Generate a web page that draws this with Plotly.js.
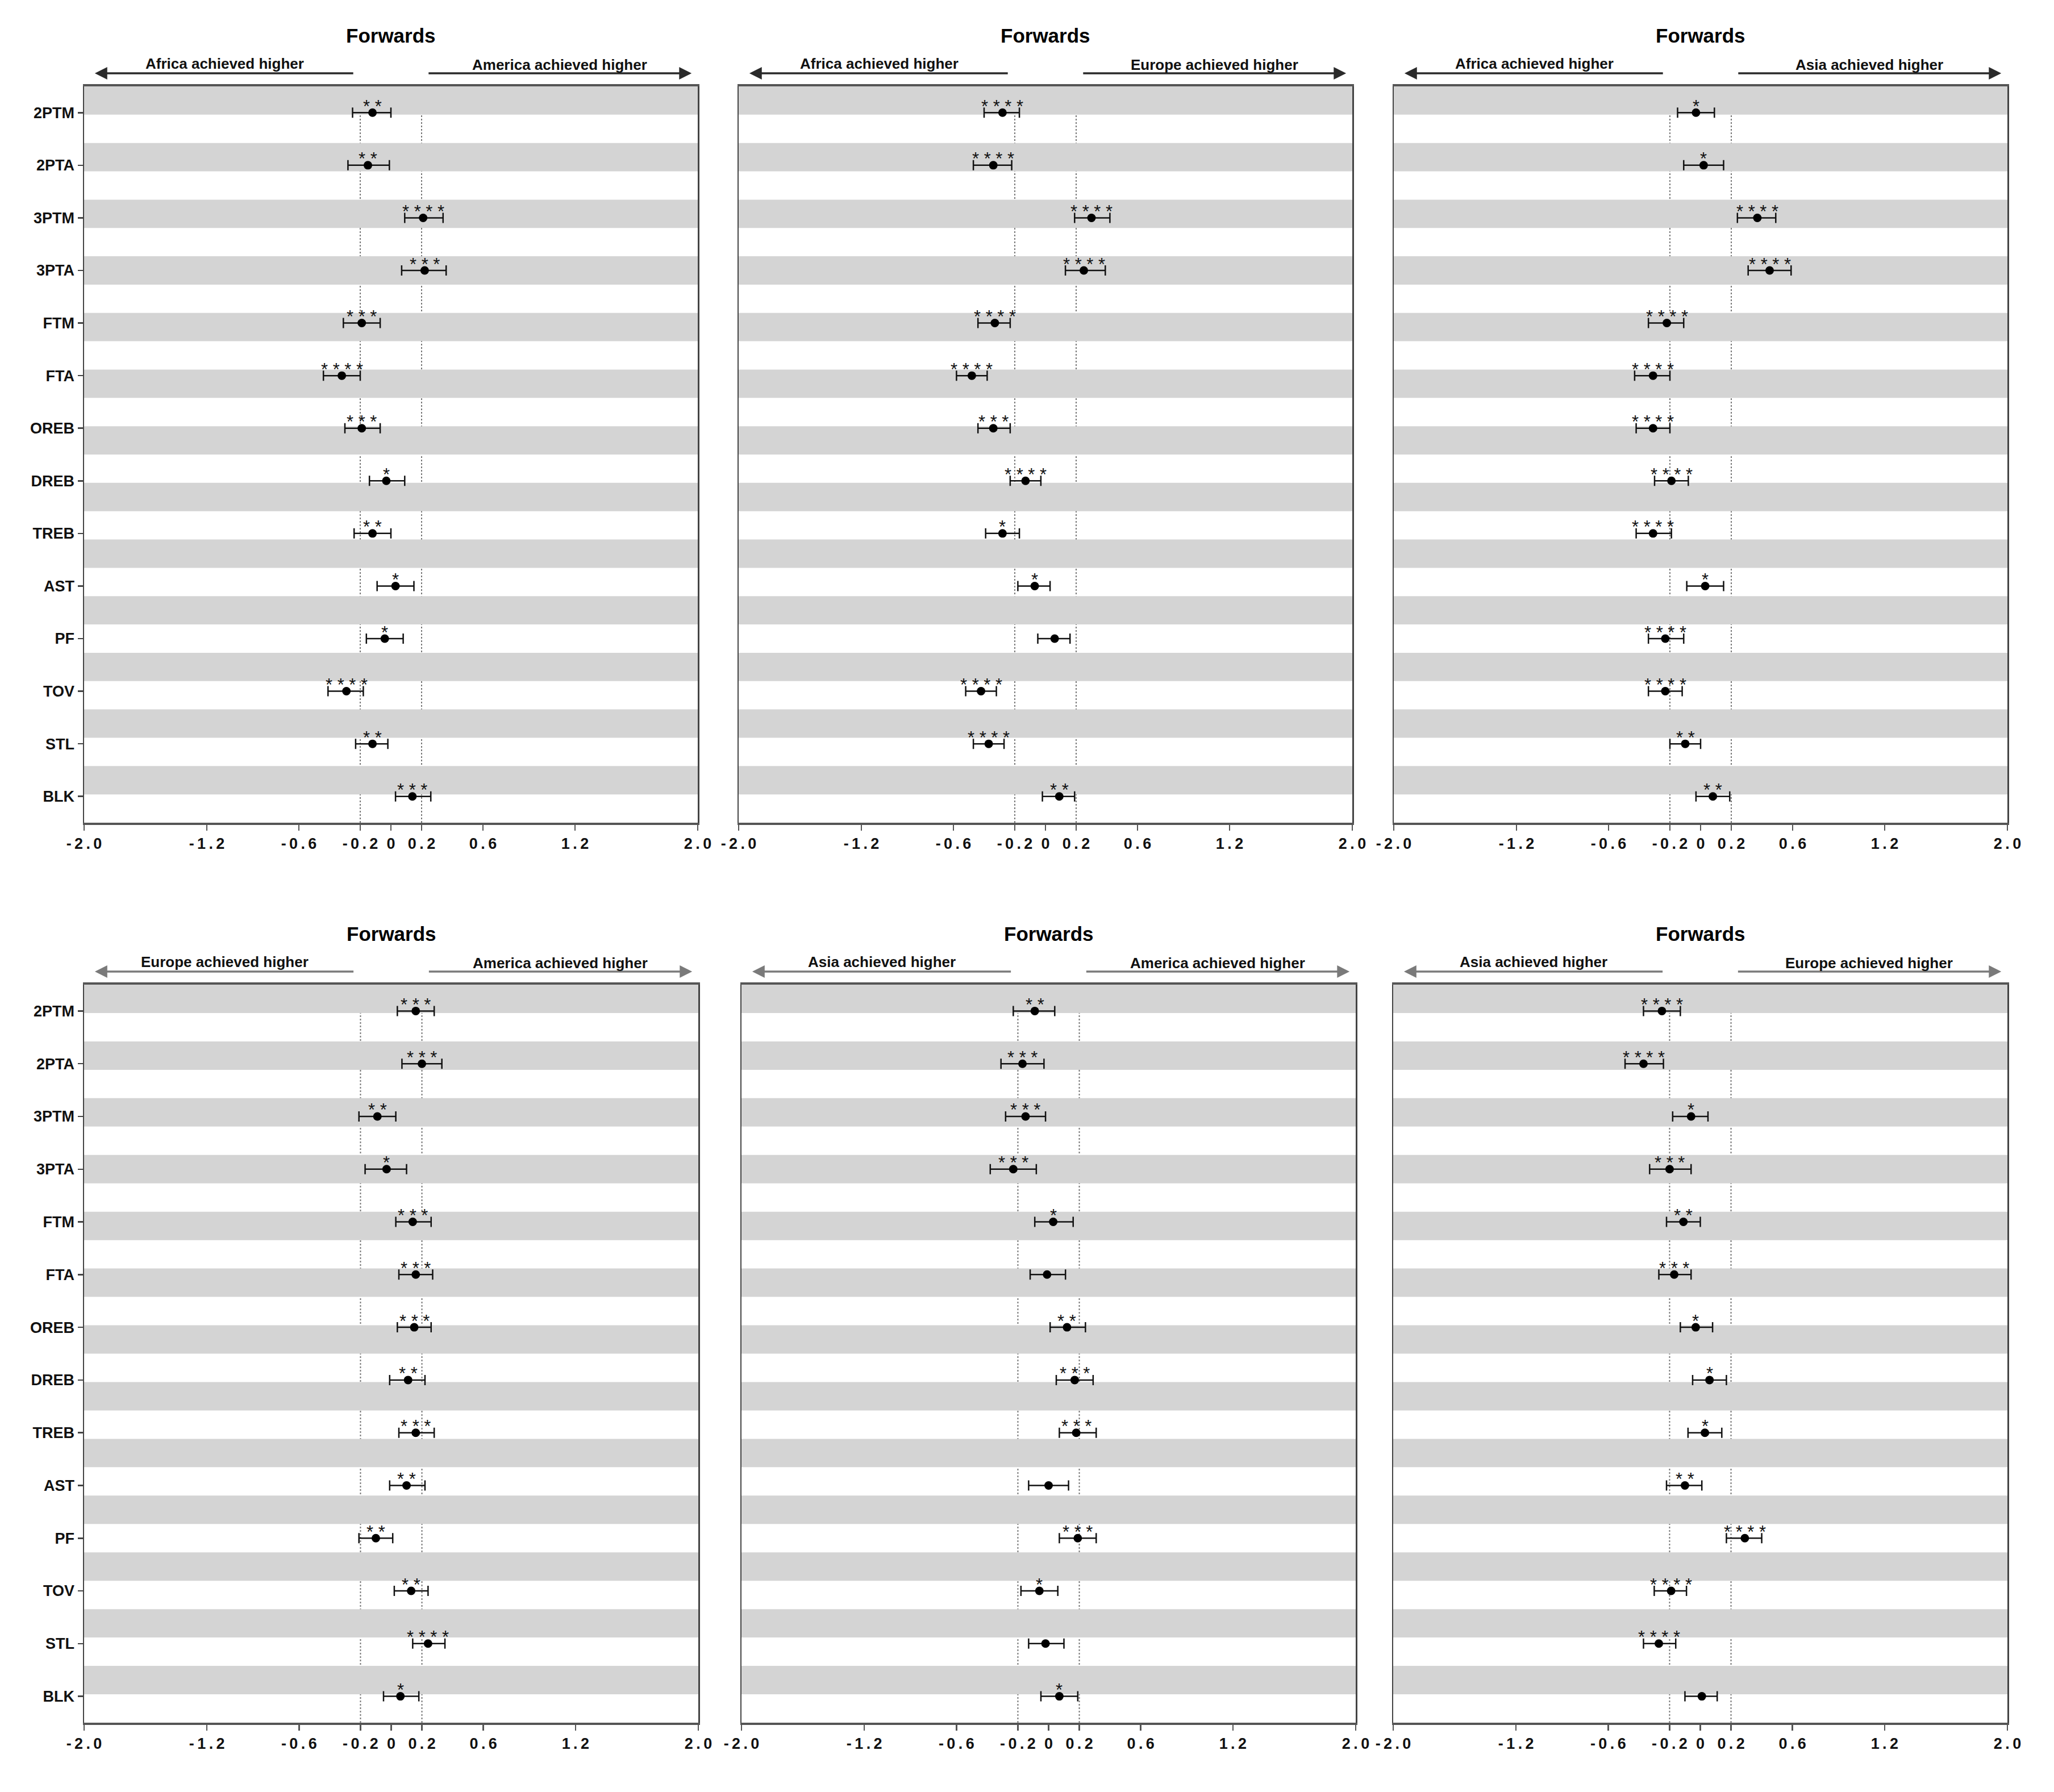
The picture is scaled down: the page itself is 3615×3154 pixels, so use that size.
<!DOCTYPE html>
<html>
<head>
<meta charset="utf-8">
<script src="https://cdn.plot.ly/plotly-3.0.1.min.js"></script>
<style>html,body{margin:0;padding:0;background:#fff;}</style>
</head>
<body>
<div id="chart" style="width:3615px;height:3154px;"></div>
<script>
// ---------- DATA ----------
const categories = ['2PTM','2PTA','3PTM','3PTA','FTM','FTA','OREB','DREB','TREB','AST','PF','TOV','STL','BLK'];
const xTickVals = [-2.0, -1.2, -0.6, -0.2, 0, 0.2, 0.6, 1.2, 2.0];
const xTickLabels = ['-2.0','-1.2','-0.6','-0.2','0','0.2','0.6','1.2','2.0'];
const panelTitle = 'Forwards';

// Panel 1: Africa vs America
const afAm_mean = [-0.12,-0.15, 0.21, 0.22,-0.19,-0.32,-0.19,-0.03,-0.12, 0.03,-0.04,-0.29,-0.12, 0.14];
const afAm_lo   = [-0.25,-0.28, 0.09, 0.07,-0.31,-0.44,-0.30,-0.14,-0.24,-0.09,-0.16,-0.41,-0.23, 0.03];
const afAm_hi   = [ 0.00,-0.01, 0.34, 0.36,-0.07,-0.20,-0.07, 0.09, 0.00, 0.15, 0.08,-0.18,-0.02, 0.26];
const afAm_sig  = [2,2,4,3,3,4,3,1,2,1,1,4,2,3];

// Panel 2: Africa vs Europe
const afEu_mean = [-0.28,-0.34, 0.30, 0.25,-0.33,-0.48,-0.34,-0.13,-0.28,-0.07, 0.06,-0.42,-0.37, 0.09];
const afEu_lo   = [-0.40,-0.47, 0.19, 0.13,-0.44,-0.58,-0.44,-0.23,-0.39,-0.18,-0.05,-0.52,-0.47,-0.02];
const afEu_hi   = [-0.17,-0.22, 0.42, 0.39,-0.23,-0.38,-0.23,-0.03,-0.17, 0.03, 0.16,-0.32,-0.27, 0.19];
const afEu_sig  = [4,4,4,4,4,4,3,4,1,1,0,4,4,2];

// Panel 3: Africa vs Asia
const afAs_mean = [-0.03, 0.02, 0.37, 0.45,-0.22,-0.31,-0.31,-0.19,-0.31, 0.03,-0.23,-0.23,-0.10, 0.08];
const afAs_lo   = [-0.15,-0.11, 0.24, 0.31,-0.34,-0.43,-0.42,-0.30,-0.42,-0.09,-0.34,-0.34,-0.20,-0.03];
const afAs_hi   = [ 0.09, 0.15, 0.49, 0.59,-0.11,-0.20,-0.20,-0.08,-0.19, 0.15,-0.11,-0.12, 0.00, 0.19];
const afAs_sig  = [1,1,4,4,4,4,4,4,4,1,4,4,2,2];

// Panel 4: Europe vs America
const euAm_mean = [ 0.16, 0.20,-0.09,-0.03, 0.14, 0.16, 0.15, 0.11, 0.16, 0.10,-0.10, 0.13, 0.24, 0.06];
const euAm_lo   = [ 0.04, 0.07,-0.21,-0.17, 0.03, 0.05, 0.04,-0.01, 0.05,-0.01,-0.21, 0.02, 0.14,-0.05];
const euAm_hi   = [ 0.28, 0.33, 0.03, 0.10, 0.26, 0.27, 0.26, 0.22, 0.28, 0.22, 0.01, 0.24, 0.35, 0.18];
const euAm_sig  = [3,3,2,1,3,3,3,2,3,2,2,2,4,1];

// Panel 5: Asia vs America
const asAm_mean = [-0.09,-0.17,-0.15,-0.23, 0.03,-0.01, 0.12, 0.17, 0.18, 0.00, 0.19,-0.06,-0.02, 0.07];
const asAm_lo   = [-0.23,-0.31,-0.28,-0.38,-0.09,-0.12, 0.01, 0.05, 0.07,-0.13, 0.07,-0.18,-0.13,-0.05];
const asAm_hi   = [ 0.04,-0.03,-0.02,-0.08, 0.16, 0.11, 0.24, 0.29, 0.31, 0.13, 0.31, 0.06, 0.10, 0.19];
const asAm_sig  = [2,3,3,3,1,0,2,3,3,0,3,1,0,1];

// Panel 6: Asia vs Europe
const asEu_mean = [-0.25,-0.37,-0.06,-0.20,-0.11,-0.17,-0.03, 0.06, 0.03,-0.10, 0.29,-0.19,-0.27, 0.01];
const asEu_lo   = [-0.37,-0.49,-0.18,-0.33,-0.22,-0.27,-0.13,-0.05,-0.08,-0.22, 0.17,-0.30,-0.37,-0.10];
const asEu_hi   = [-0.13,-0.24, 0.05,-0.06, 0.00,-0.06, 0.08, 0.17, 0.14, 0.01, 0.40,-0.09,-0.16, 0.11];
const asEu_sig  = [4,4,1,3,2,3,1,1,1,2,4,4,4,0];

const leftLabels  = ['Africa achieved higher','Africa achieved higher','Africa achieved higher','Europe achieved higher','Asia achieved higher','Asia achieved higher'];
const rightLabels = ['America achieved higher','Europe achieved higher','Asia achieved higher','America achieved higher','America achieved higher','Europe achieved higher'];

const seriesMean = [afAm_mean, afEu_mean, afAs_mean, euAm_mean, asAm_mean, asEu_mean];
const seriesLo   = [afAm_lo, afEu_lo, afAs_lo, euAm_lo, asAm_lo, asEu_lo];
const seriesHi   = [afAm_hi, afEu_hi, afAs_hi, euAm_hi, asAm_hi, asEu_hi];
const seriesSig  = [afAm_sig, afEu_sig, afAs_sig, euAm_sig, asAm_sig, asEu_sig];

// ---------- LAYOUT GEOMETRY (pixels) ----------
const W = 3615, H = 3154;
const boxes = [
  [148,1228,152,1448],[1300,2380,152,1448],[2453,3533,152,1448],
  [148,1229,1733,3032],[1305,2386,1733,3032],[2452,3533,1733,3032]
];
const FONT = 'Liberation Sans, Arial, sans-serif';
const spaced = s => s.split('').join('\u2009');

const traces = [];
const shapes = [];
const annotations = [];
const layout = {
  width: W, height: H,
  margin: {l:0, r:0, t:0, b:0},
  paper_bgcolor: '#ffffff', plot_bgcolor: '#ffffff',
  showlegend: false,
  font: {family: FONT, color: '#111'}
};

for (let i = 0; i < 6; i++) {
  const n = i + 1;
  const xa = n === 1 ? 'x' : 'x' + n;
  const ya = n === 1 ? 'y' : 'y' + n;
  const [x0,x1,y0,y1] = boxes[i];
  const mean = seriesMean[i], lo = seriesLo[i], hi = seriesHi[i];
  const topRow = i < 3;

  traces.push({
    type: 'scatter', mode: 'markers',
    x: mean, y: categories, xaxis: xa, yaxis: ya,
    marker: {color: '#000', size: 15},
    error_x: {
      type: 'data', symmetric: false,
      array: mean.map((m, k) => hi[k] - m),
      arrayminus: mean.map((m, k) => m - lo[k]),
      color: '#111', thickness: 2.5, width: 9
    },
    hoverinfo: 'skip', cliponaxis: false
  });

  layout['xaxis' + (n === 1 ? '' : n)] = {
    domain: [x0 / W, x1 / W], anchor: ya,
    range: [-2, 2], fixedrange: true,
    tickmode: 'array', tickvals: xTickVals, ticktext: xTickLabels.map(spaced),
    ticks: 'outside', ticklen: 10, tickwidth: 2.5, tickcolor: '#555',
    tickfont: {family: FONT, size: 27, weight: 'bold', color: '#111'},
    showline: true, linewidth: 4, linecolor: '#555', mirror: true,
    showgrid: false, zeroline: false
  };
  layout['yaxis' + (n === 1 ? '' : n)] = {
    domain: [1 - y1 / H, 1 - y0 / H], anchor: xa,
    type: 'category', categoryorder: 'array', categoryarray: categories,
    range: [categories.length - 0.5, -0.5], fixedrange: true,
    showticklabels: (i % 3 === 0),
    ticks: (i % 3 === 0) ? 'outside' : '', ticklen: 9, tickwidth: 2.5, tickcolor: '#444',
    tickfont: {family: FONT, size: 27, weight: 'bold', color: '#111'},
    showline: true, linewidth: 2.5, linecolor: '#444', mirror: true,
    showgrid: false, zeroline: false
  };

  // dotted reference lines (under the stripes)
  [-0.2, 0.2].forEach(v => shapes.push({
    type: 'line', layer: 'below', xref: xa, yref: ya + ' domain',
    x0: v, x1: v, y0: 0, y1: 1,
    line: {color: '#777', width: 2, dash: 'dot'}
  }));
  // background stripes
  const nStripes = 26;
  for (let k = 0; k < nStripes; k += 2) {
    shapes.push({
      type: 'rect', layer: 'below', xref: xa + ' domain', yref: ya + ' domain',
      x0: 0, x1: 1, y0: 1 - (k + 1) / nStripes, y1: 1 - k / nStripes,
      fillcolor: '#d4d4d4', line: {width: 0}
    });
  }

  // significance stars
  seriesSig[i].forEach((s, k) => {
    if (s > 0) annotations.push({
      xref: xa, yref: ya, x: mean[k], y: categories[k],
      text: Array(s).fill('*').join(' '), showarrow: false,
      xanchor: 'center', yanchor: 'middle', yshift: 11,
      font: {family: FONT, size: 31, color: '#111'}
    });
  });

  // title
  annotations.push({
    xref: xa + ' domain', yref: ya + ' domain', x: 0.5, y: 1, yshift: 90,
    text: '<b>' + panelTitle + '</b>', showarrow: false,
    xanchor: 'center', yanchor: 'middle',
    font: {family: FONT, size: 35, color: '#000'}
  });

  // direction arrows
  const arrowCol = topRow ? '#2a2a2a' : '#7a7a7a';
  annotations.push({
    xref: xa, yref: ya + ' domain', x: -1.93, y: 1, yshift: 23,
    axref: xa, ayref: 'pixel', ax: -0.24, ay: 0,
    text: '', showarrow: true, arrowhead: 2, arrowsize: 1.25, arrowwidth: 3.5,
    arrowcolor: arrowCol, standoff: 0, startstandoff: 0
  });
  annotations.push({
    xref: xa, yref: ya + ' domain', x: 1.96, y: 1, yshift: 23,
    axref: xa, ayref: 'pixel', ax: 0.24, ay: 0,
    text: '', showarrow: true, arrowhead: 2, arrowsize: 1.25, arrowwidth: 3.5,
    arrowcolor: arrowCol, standoff: 0, startstandoff: 0
  });
  annotations.push({
    xref: xa, yref: ya + ' domain', x: -1.085, y: 1, yshift: 40,
    text: '<b>' + leftLabels[i] + '</b>', showarrow: false,
    xanchor: 'center', yanchor: 'middle',
    font: {family: FONT, size: 26, color: '#111'}
  });
  annotations.push({
    xref: xa, yref: ya + ' domain', x: 1.1, y: 1, yshift: 38,
    text: '<b>' + rightLabels[i] + '</b>', showarrow: false,
    xanchor: 'center', yanchor: 'middle',
    font: {family: FONT, size: 26, color: '#111'}
  });
}

layout.shapes = shapes;
layout.annotations = annotations;

Plotly.newPlot('chart', traces, layout, {staticPlot: true, displayModeBar: false});
</script>
</body>
</html>
